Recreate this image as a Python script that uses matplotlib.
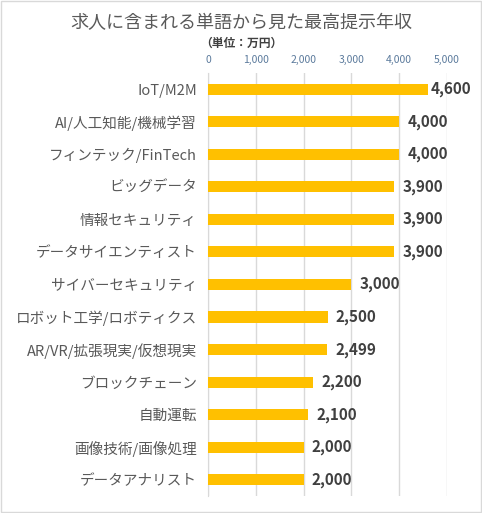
import matplotlib.pyplot as plt
import numpy as np

plt.rcParams['font.family'] = ['Noto Sans CJK JP', 'DejaVu Sans']

categories = ["IoT/M2M", "AI/人工知能/機械学習", "フィンテック/FinTech", "ビッグデータ",
              "情報セキュリティ", "データサイエンティスト", "サイバーセキュリティ",
              "ロボット工学/ロボティクス", "AR/VR/拡張現実/仮想現実", "ブロックチェーン",
              "自動運転", "画像技術/画像処理", "データアナリスト"]
values = [4600, 4000, 4000, 3900, 3900, 3900, 3000, 2500, 2499, 2200, 2100, 2000, 2000]
ticks = [0, 1000, 2000, 3000, 4000, 5000]

fig = plt.figure(figsize=(4.82, 5.13), dpi=100)
ax = fig.add_axes([0.4315, 0.033, 0.496, 0.825])

y = np.arange(len(categories))
ax.barh(y, values, height=0.34, color='#FFC000', zorder=3)
ax.set_ylim(len(categories) - 0.5, -0.5)
ax.set_xlim(0, 5000)

ax.xaxis.tick_top()
ax.set_xticks(ticks)
ax.set_xticklabels([f"{t:,}" for t in ticks], fontsize=7.5, color='#5b7a9c')
ax.tick_params(axis='x', length=0, pad=6)
ax.set_yticks(y)
ax.set_yticklabels(categories, fontsize=10.5, color='#595959')
ax.tick_params(axis='y', length=0, pad=8)

ax.grid(axis='x', color='#d9d9d9', linewidth=1, zorder=0)
for s in ['top', 'right', 'bottom']:
    ax.spines[s].set_visible(False)
ax.spines['left'].set_color('#d9d9d9')

for yi, v in zip(y, values):
    off = 2 if v > 4500 else 6
    ax.annotate(f"{v:,}", (v, yi), xytext=(off, 0), textcoords='offset points',
                va='center', ha='left', fontsize=11, fontweight='bold', color='#404040')

fig.text(0.5, 0.955, "求人に含まれる単語から見た最高提示年収", ha='center', va='center',
         fontsize=13, color='#595959')
fig.text(0.5, 0.915, "（単位：万円）", ha='center', va='center',
         fontsize=8.5, fontweight='bold', color='#404040')

fig.patches.append(plt.Rectangle((0.002, 0.002), 0.996, 0.996, transform=fig.transFigure,
                                 fill=False, edgecolor='#d9d9d9', linewidth=1))

fig.savefig('out.png', dpi=100)
